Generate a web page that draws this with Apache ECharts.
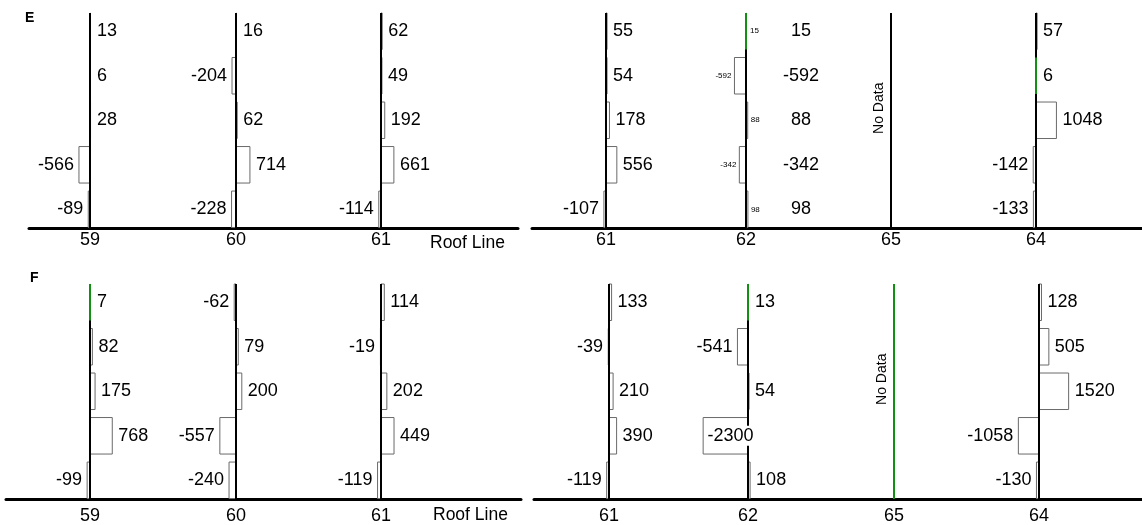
<!DOCTYPE html>
<html><head><meta charset="utf-8">
<script src="https://cdn.jsdelivr.net/npm/echarts@6/dist/echarts.min.js"></script>
<style>html,body{margin:0;padding:0;background:#fff}#c{width:1142px;height:525px}</style>
</head><body><div id="c"></div>
<script>
// ---------------- DATA ----------------
// Each column lists its 5 values from the top row down.
const eLeftCols = ['59', '60', '61'];
const eLeft59 = [13, 6, 28, -566, -89];
const eLeft60 = [16, -204, 62, 714, -228];
const eLeft61 = [62, 49, 192, 661, -114];

const eRightCols = ['61', '62', '65', '64'];
const eRight61 = [55, 54, 178, 556, -107];
const eRight62 = [15, -592, 88, -342, 98];
const eRight65 = null; // No Data
const eRight64 = [57, 6, 1048, -142, -133];

const fLeftCols = ['59', '60', '61'];
const fLeft59 = [7, 82, 175, 768, -99];
const fLeft60 = [-62, 79, 200, -557, -240];
const fLeft61 = [114, -19, 202, 449, -119];

const fRightCols = ['61', '62', '65', '64'];
const fRight61 = [133, -39, 210, 390, -119];
const fRight62 = [13, -541, 54, -2300, 108];
const fRight65 = null; // No Data
const fRight64 = [128, 505, 1520, -1058, -130];

const panelTitles = ['E', 'F'];
const noDataText = 'No Data';
const roofLineText = 'Roof Line';

// ---------------- LAYOUT / STYLE ----------------
const FONT = '"Liberation Sans", Arial, Helvetica, sans-serif';
const GREEN = '#129012';
const VAL_FS = 18;
const Y_MIN = -0.42, Y_MAX = 4.41, HALF = 0.41, NO_DATA_Y = 2.27;
const panels = [
  { cols: eLeftCols, values: [eLeft59, eLeft60, eLeft61], left: 29, right: 518, top: 13, height: 215,
    colPx: [90, 236, 381], pxPerUnit: 0.0195, green: [], greenCols: [], small: -1, margin: 3 },
  { cols: eRightCols, values: [eRight61, eRight62, eRight65, eRight64], left: 532, right: 1142, top: 13, height: 215,
    colPx: [606, 746, 891, 1036], pxPerUnit: 0.0195, green: [[1, 0], [3, 1]], greenCols: [], small: 1, margin: 3 },
  { cols: fLeftCols, values: [fLeft59, fLeft60, fLeft61], left: 6, right: 521, top: 284, height: 215,
    colPx: [90, 236, 381], pxPerUnit: 0.029, green: [[0, 0]], greenCols: [], small: -1, margin: 8 },
  { cols: fRightCols, values: [fRight61, fRight62, fRight65, fRight64], left: 534, right: 1142, top: 284, height: 215,
    colPx: [609, 748, 894, 1039], pxPerUnit: 0.0195, green: [[1, 0]], greenCols: [2], small: -1, margin: 8 }
];

const grids = [], xAxes = [], yAxes = [], series = [];

panels.forEach((p, i) => {
  const toUnits = px => (px - p.left) / p.pxPerUnit;
  const colVals = p.colPx.map(toUnits);
  grids.push({ left: p.left, top: p.top, width: p.right - p.left, height: p.height, outerBoundsMode: 'none' });
  xAxes.push({
    type: 'value', gridIndex: i, min: 0, max: toUnits(p.right),
    axisLine: { show: true, onZero: false, lineStyle: { color: '#000', width: 3 } },
    axisTick: { show: false }, splitLine: { show: false },
    axisLabel: {
      customValues: colVals, color: '#000', fontSize: 18, fontFamily: FONT, margin: p.margin,
      formatter: v => {
        let best = 0;
        colVals.forEach((cv, k) => { if (Math.abs(cv - v) < Math.abs(colVals[best] - v)) best = k; });
        return p.cols[best];
      }
    }
  });
  yAxes.push({ type: 'value', gridIndex: i, min: Y_MIN, max: Y_MAX, show: false });

  const barData = [];
  const colData = [];
  p.values.forEach((arr, c) => {
    colData.push([colVals[c], 0, c, arr ? 1 : 0]);
    if (arr) arr.forEach((v, r) => barData.push([colVals[c], 4 - r, v, c, r]));
  });

  // bars
  series.push({
    type: 'custom', xAxisIndex: i, yAxisIndex: i, z: 2, silent: true,
    encode: { x: 0, y: 1 }, data: barData,
    renderItem: (params, api) => {
      const x0 = api.value(0), y = api.value(1), v = api.value(2);
      const a = api.coord([x0, y + HALF]);
      const b = api.coord([x0 + v, y - HALF]);
      return {
        type: 'rect',
        shape: { x: Math.min(a[0], b[0]), y: a[1], width: Math.abs(b[0] - a[0]), height: b[1] - a[1] },
        style: { fill: '#fff', stroke: '#6a6a6a', lineWidth: 1 }
      };
    }
  });

  // vertical column lines
  series.push({
    type: 'custom', xAxisIndex: i, yAxisIndex: i, z: 3, silent: true,
    encode: { x: 0, y: 1 }, data: colData,
    renderItem: (params, api) => {
      const x = api.value(0), c = api.value(2), has = api.value(3);
      const t = api.coord([x, Y_MAX]), bt = api.coord([x, Y_MIN]);
      const allGreen = p.greenCols.indexOf(c) >= 0;
      const children = [{
        type: 'line', shape: { x1: t[0], y1: t[1], x2: bt[0], y2: bt[1] },
        style: { stroke: allGreen ? GREEN : '#000', lineWidth: 2 }
      }];
      p.green.forEach(g => {
        if (g[0] === c) {
          const yc = 4 - g[1];
          const s = api.coord([x, yc + HALF]), e = api.coord([x, yc - HALF]);
          children.push({ type: 'line', shape: { x1: s[0], y1: s[1], x2: e[0], y2: e[1] },
            style: { stroke: GREEN, lineWidth: 2 } });
        }
      });
      if (!has) {
        const m = api.coord([x, NO_DATA_Y]);
        children.push({ type: 'text', x: m[0] - 12, y: m[1], rotation: Math.PI / 2,
          style: { text: noDataText, fontSize: 14, fontFamily: FONT, fill: '#000', align: 'center', verticalAlign: 'middle' } });
      }
      return { type: 'group', children };
    }
  });

  // value labels
  series.push({
    type: 'custom', xAxisIndex: i, yAxisIndex: i, z: 4, silent: true,
    encode: { x: 0, y: 1 }, data: barData,
    renderItem: (params, api) => {
      const x0 = api.value(0), y = api.value(1), v = api.value(2), c = api.value(3);
      const base = api.coord([x0, y]), end = api.coord([x0 + v, y]);
      const barPx = Math.abs(end[0] - base[0]);
      const isSmall = c === p.small;
      const children = [];
      const txt = String(v);
      if (barPx > 40) {
        children.push({ type: 'text', x: (base[0] + end[0]) / 2 + 5, y: base[1],
          style: { text: txt, fontSize: VAL_FS, fontFamily: FONT, fill: '#000', align: 'center', verticalAlign: 'middle',
            backgroundColor: '#fff', padding: [1, 1] } });
      } else if (v >= 0) {
        children.push({ type: 'text', x: Math.max(end[0], base[0] + 1) + (isSmall ? 3 : 6), y: base[1],
          style: { text: txt, fontSize: isSmall ? 8 : VAL_FS, fontFamily: FONT, fill: '#000', align: 'left', verticalAlign: 'middle' } });
      } else {
        children.push({ type: 'text', x: Math.min(end[0], base[0] - 1) - (isSmall ? 3 : 5), y: base[1],
          style: { text: txt, fontSize: isSmall ? 8 : VAL_FS, fontFamily: FONT, fill: '#000', align: 'right', verticalAlign: 'middle' } });
      }
      if (isSmall) {
        children.push({ type: 'text', x: base[0] + 55, y: base[1],
          style: { text: txt, fontSize: VAL_FS, fontFamily: FONT, fill: '#000', align: 'center', verticalAlign: 'middle' } });
      }
      return { type: 'group', children };
    }
  });
});

const chart = echarts.init(document.getElementById('c'), null, { renderer: 'canvas' });
chart.setOption({
  animation: false,
  backgroundColor: '#fff',
  grid: grids, xAxis: xAxes, yAxis: yAxes, series,
  graphic: [
    { type: 'text', x: 25, y: 18, style: { text: panelTitles[0], font: 'bold 14px ' + FONT, fill: '#000', verticalAlign: 'middle' } },
    { type: 'text', x: 30, y: 278, style: { text: panelTitles[1], font: 'bold 14px ' + FONT, fill: '#000', verticalAlign: 'middle' } },
    { type: 'text', x: 430, y: 243, style: { text: roofLineText, font: '17.5px ' + FONT, fill: '#000', verticalAlign: 'middle' } },
    { type: 'text', x: 433, y: 515, style: { text: roofLineText, font: '17.5px ' + FONT, fill: '#000', verticalAlign: 'middle' } }
  ]
});
</script>
</body></html>
